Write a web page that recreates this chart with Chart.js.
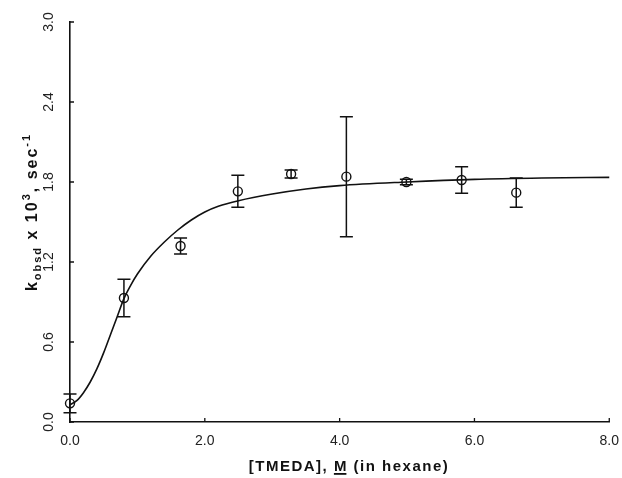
<!DOCTYPE html>
<html>
<head>
<meta charset="utf-8">
<script src="https://cdn.jsdelivr.net/npm/chart.js@4/dist/chart.umd.min.js"></script>
<style>
  html, body { margin: 0; padding: 0; background: #fff; }
  #wrap { width: 622px; height: 478px; }
</style>
</head>
<body>
<div id="wrap"><canvas id="kobs" width="622" height="478"></canvas></div>
<script>
// measured k_obsd (x 10^3 s^-1) against [TMEDA] in hexane
const tmeda = [0.0, 0.80, 1.64, 2.49, 3.28, 4.10, 4.99, 5.81, 6.62];
const kObs  = [0.14, 0.93, 1.32, 1.73, 1.86, 1.84, 1.80, 1.815, 1.72];
const kErr  = [0.07, 0.14, 0.06, 0.12, 0.03, 0.45, 0.02, 0.10, 0.11];

// fitted saturation curve
const fitX = [0, 0.1, 0.2, 0.3, 0.4, 0.5, 0.6, 0.7, 0.8, 0.9, 1.0, 1.2, 1.4, 1.6, 1.8, 2.0, 2.2, 2.5, 3.0, 3.5, 4.0, 5.0, 6.0, 7.0, 8.0];
const fitY = [0.13, 0.16, 0.22, 0.30, 0.40, 0.52, 0.655, 0.79, 0.925, 1.025, 1.11, 1.245, 1.35, 1.44, 1.515, 1.575, 1.618, 1.66, 1.71, 1.748, 1.773, 1.80, 1.82, 1.83, 1.835];

const xTicks = [0, 2, 4, 6, 8];
const yTicks = [0, 0.6, 1.2, 1.8, 2.4, 3.0];

const INK = "#111";
const FAMILY = "'Liberation Sans', Arial, sans-serif";
const bold = s => `bold ${s}px ${FAMILY}`;

const errorBars = {
  id: "errorBars",
  afterDatasetsDraw(chart) {
    const { ctx, scales: { x, y } } = chart;
    ctx.save();
    ctx.strokeStyle = INK;
    ctx.lineWidth = 1.5;
    tmeda.forEach((v, i) => {
      const px = x.getPixelForValue(v);
      const top = y.getPixelForValue(kObs[i] + kErr[i]);
      const bot = y.getPixelForValue(kObs[i] - kErr[i]);
      ctx.beginPath();
      ctx.moveTo(px, top); ctx.lineTo(px, bot);
      ctx.moveTo(px - 6.5, top); ctx.lineTo(px + 6.5, top);
      ctx.moveTo(px - 6.5, bot); ctx.lineTo(px + 6.5, bot);
      ctx.stroke();
    });
    ctx.restore();
  }
};

// inward ticks, rotated y labels and the two axis titles
const axisDecor = {
  id: "axisDecor",
  afterDraw(chart) {
    const { ctx, chartArea: area, scales: { x, y } } = chart;
    ctx.save();
    ctx.strokeStyle = INK;
    ctx.lineWidth = 1.3;
    ctx.beginPath();
    xTicks.forEach(v => {
      const px = x.getPixelForValue(v);
      ctx.moveTo(px, area.bottom); ctx.lineTo(px, area.bottom - 4);
    });
    yTicks.forEach(v => {
      const py = y.getPixelForValue(v);
      ctx.moveTo(area.left, py); ctx.lineTo(area.left + 4, py);
    });
    ctx.stroke();

    ctx.fillStyle = "#222";
    ctx.font = `14px ${FAMILY}`;
    ctx.textAlign = "center";
    ctx.textBaseline = "middle";
    yTicks.forEach(v => {
      ctx.save();
      ctx.translate(49, y.getPixelForValue(v));
      ctx.rotate(-Math.PI / 2);
      ctx.fillText(v.toFixed(1), 0, 0);
      ctx.restore();
    });

    // y title: k_obsd x 10^3, sec^-1
    const parts = [
      { t: "k", f: bold(16), dy: 0 },
      { t: "obsd", f: bold(11), dy: 4 },
      { t: " x 10", f: bold(16), dy: 0 },
      { t: "3", f: bold(11), dy: -7 },
      { t: ", sec", f: bold(16), dy: 0 },
      { t: "-1", f: bold(11), dy: -7 }
    ];
    ctx.fillStyle = INK;
    ctx.textAlign = "left";
    ctx.textBaseline = "alphabetic";
    ctx.letterSpacing = "2px";
    let total = 0;
    parts.forEach(p => { ctx.font = p.f; p.w = ctx.measureText(p.t).width; total += p.w; });
    ctx.save();
    ctx.translate(37, 212);
    ctx.rotate(-Math.PI / 2);
    let cx = -total / 2;
    parts.forEach(p => {
      ctx.font = p.f;
      ctx.fillText(p.t, cx, p.dy);
      cx += p.w;
    });
    ctx.restore();

    // x title with underlined M
    const xParts = ["[TMEDA], ", "M", " (in hexane)"];
    ctx.font = bold(15);
    ctx.letterSpacing = "1.5px";
    const widths = xParts.map(s => ctx.measureText(s).width);
    let sx = 349 - widths.reduce((a, b) => a + b, 0) / 2;
    const base = 471;
    xParts.forEach((s, i) => {
      ctx.fillText(s, sx, base);
      if (s === "M") {
        ctx.fillRect(sx, base + 2, widths[i] - 1.5, 1.8);
      }
      sx += widths[i];
    });
    ctx.restore();
  }
};

new Chart(document.getElementById("kobs"), {
  data: {
    datasets: [
      {
        type: "line",
        data: fitX.map((v, i) => ({ x: v, y: fitY[i] })),
        borderColor: INK,
        borderWidth: 1.6,
        pointRadius: 0,
        cubicInterpolationMode: "monotone",
        fill: false,
        clip: false
      },
      {
        type: "scatter",
        data: tmeda.map((v, i) => ({ x: v, y: kObs[i] })),
        pointStyle: "circle",
        pointRadius: 4.5,
        pointBorderWidth: 1.4,
        borderColor: INK,
        backgroundColor: "rgba(0,0,0,0)",
        clip: false
      }
    ]
  },
  options: {
    responsive: false,
    animation: false,
    devicePixelRatio: 1,
    layout: { padding: { top: 22, right: 0, left: 0, bottom: 0 } },
    plugins: { legend: { display: false }, tooltip: { enabled: false } },
    scales: {
      x: {
        type: "linear",
        min: 0, max: 8,
        grid: { display: false },
        border: { display: true, color: INK, width: 1.6 },
        afterBuildTicks: s => { s.ticks = xTicks.map(v => ({ value: v })); },
        afterFit: s => { s.height = 56; },
        ticks: {
          color: "#222",
          padding: 3,
          maxRotation: 0,
          font: { family: FAMILY, size: 14 },
          callback: v => v.toFixed(1)
        }
      },
      y: {
        type: "linear",
        min: 0, max: 3,
        grid: { display: false },
        border: { display: true, color: INK, width: 1.6 },
        afterBuildTicks: s => { s.ticks = yTicks.map(v => ({ value: v })); },
        afterFit: s => { s.width = 70; },
        ticks: { display: false }
      }
    }
  },
  plugins: [errorBars, axisDecor]
});
</script>
</body>
</html>
